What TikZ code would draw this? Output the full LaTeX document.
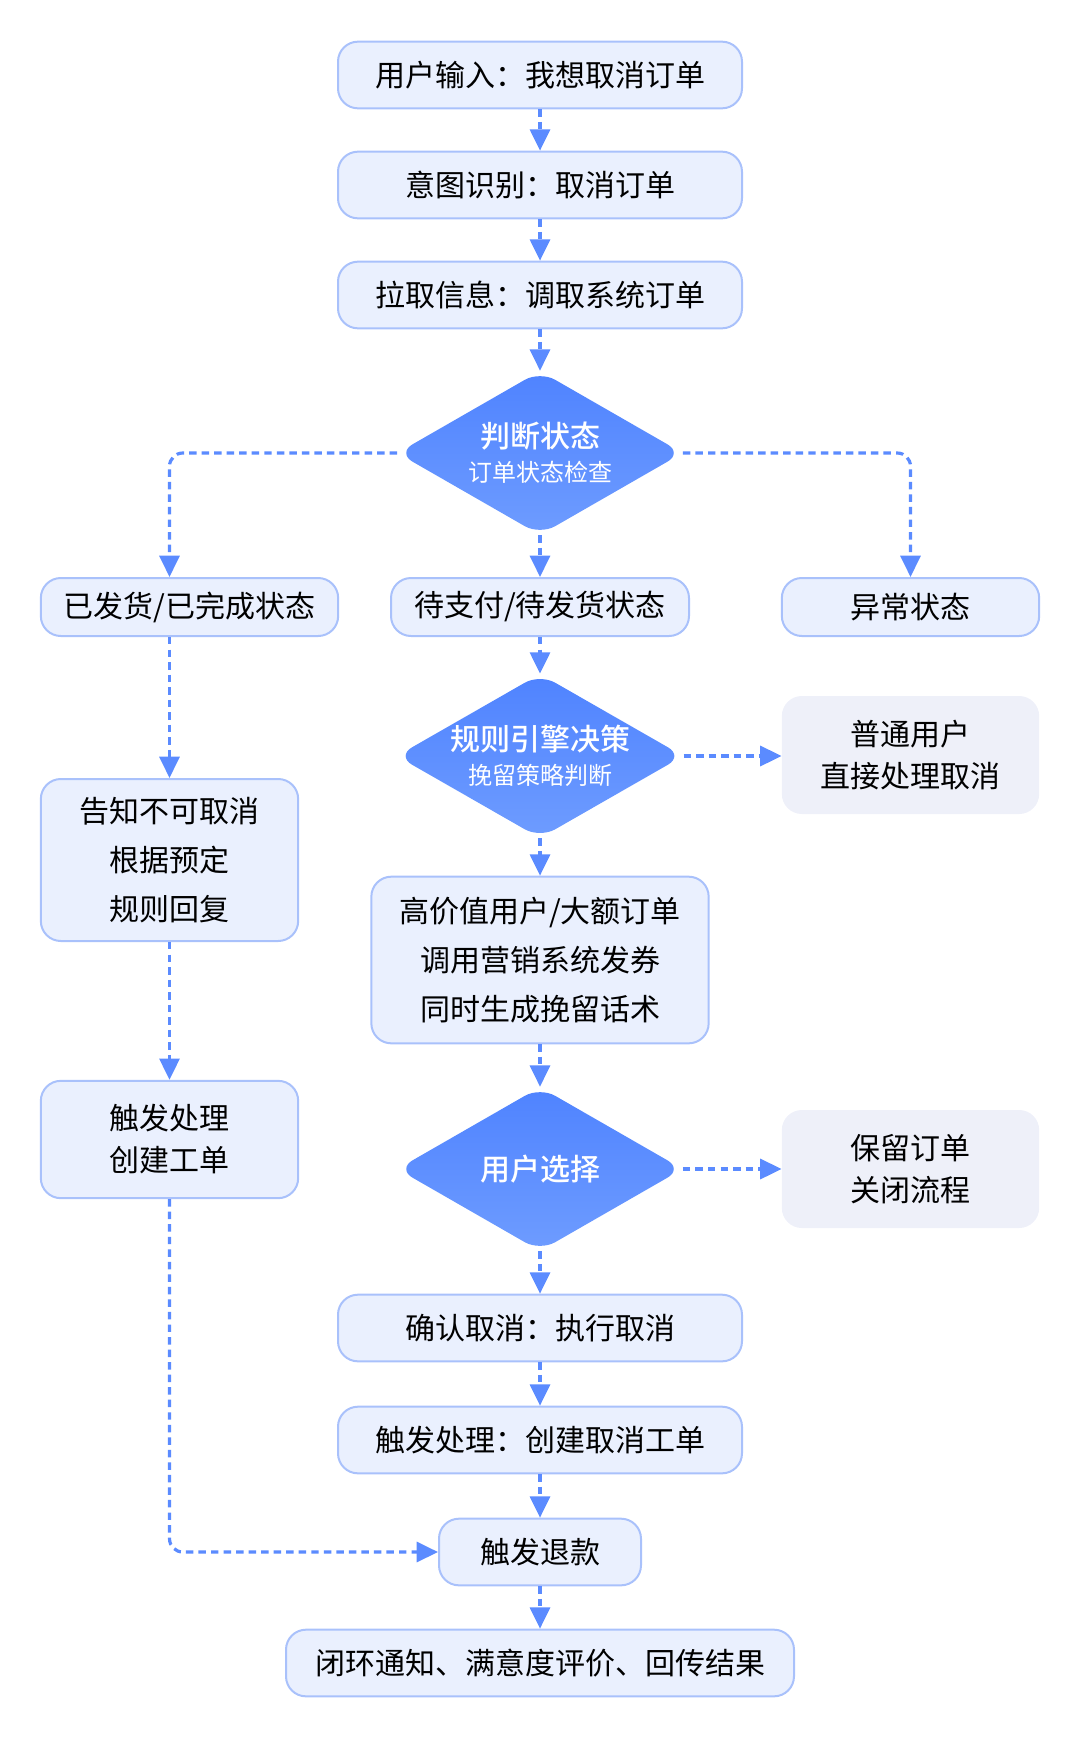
\documentclass[tikz,border=0pt]{standalone}
\usepackage{fontspec}
\setmainfont{Noto Sans CJK SC}
\newfontfamily\medfont{Noto Sans CJK SC Medium}
\usepackage{tikz}
\usetikzlibrary{shapes.geometric,arrows.meta}

\definecolor{boxfill}{HTML}{EAF0FE}
\definecolor{boxline}{HTML}{A9C1FB}
\definecolor{sidefill}{HTML}{EEF0F9}
\definecolor{flowc}{HTML}{5B8BFF}
\definecolor{dtop}{HTML}{4F83FF}
\definecolor{dbot}{HTML}{6E9CFF}

\tikzset{
  procbox/.style={draw=boxline, fill=boxfill, line width=1.5pt, rounded corners=15pt,
    minimum height=50pt, align=center, font=\fontsize{22.5}{31.5}\selectfont},
  sidebox/.style={fill=sidefill, rounded corners=15pt, minimum width=193pt,
    minimum height=88.5pt, align=center, font=\fontsize{22.5}{31.5}\selectfont},
  decide/.style={diamond, aspect=1.745, inner sep=0pt, minimum width=214pt,
    minimum height=123pt, rounded corners=13pt, top color=dtop, bottom color=dbot,
    text=white, align=center},
  flow/.style={draw=flowc, line width=2.4pt, dash pattern=on 5.6pt off 3.8pt,
    rounded corners=10pt, -{Triangle[length=16pt,width=15pt]}},
}

\newcommand{\dtitle}[1]{{\medfont\fontsize{22.5}{27.5}\selectfont #1}}
\newcommand{\dsub}[1]{{\fontsize{18}{22}\selectfont #1}}

\begin{document}
\begin{tikzpicture}[x=0.75pt,y=0.75pt,yscale=-1]
\path[use as bounding box] (0,0) rectangle (1080,1745);

% top of the main column
\node[procbox, minimum width=303pt] (inp) at (540,75) {用户输入：我想取消订单};
\node[procbox, minimum width=303pt] (intent) at (540,185) {意图识别：取消订单};
\node[procbox, minimum width=303pt] (fetch) at (540,295) {拉取信息：调取系统订单};

% state check
\node[decide] (state) at (540,453) {\dtitle{判断状态}\\[7pt]\dsub{订单状态检查}};

\node[procbox, minimum width=223pt, minimum height=43.5pt] (shipped) at (189.5,607) {已发货/已完成状态};
\node[procbox, minimum width=223.5pt, minimum height=43.5pt] (pending) at (540,607) {待支付/待发货状态};
\node[procbox, minimum width=193pt, minimum height=43.5pt] (abnormal) at (910.5,607) {异常状态};

% retention rules
\node[decide] (rules) at (540,756) {\dtitle{规则引擎决策}\\[7pt]\dsub{挽留策略判断}};
\node[sidebox] (normal) at (910.5,755) {普通用户\\直接处理取消};

\node[procbox, minimum width=193pt, minimum height=121.5pt] (refuse) at (169.5,860) {告知不可取消\\[5pt]根据预定\\[5pt]规则回复};
\node[procbox, minimum width=253pt, minimum height=125pt] (vip) at (540,960) {高价值用户/大额订单\\[5pt]调用营销系统发券\\[5pt]同时生成挽留话术};

\node[procbox, minimum width=193pt, minimum height=88pt] (ticket) at (169.5,1139.5) {触发处理\\创建工单};

% user choice
\node[decide] (choice) at (540,1169) {\dtitle{用户选择}};
\node[sidebox] (keep) at (910.5,1169) {保留订单\\关闭流程};

% bottom of the main column
\node[procbox, minimum width=303pt] (confirm) at (540,1328) {确认取消：执行取消};
\node[procbox, minimum width=303pt] (cticket) at (540,1440) {触发处理：创建取消工单};
\node[procbox, minimum width=151.5pt] (refund) at (540,1552) {触发退款};
\node[procbox, minimum width=381pt] (close) at (540,1663) {闭环通知、满意度评价、回传结果};

% connectors
\draw[flow] (inp) -- (intent);
\draw[flow] (intent) -- (fetch);
\draw[flow] (fetch) -- (state);
\draw[flow] (state.west) -| (shipped.north -| refuse.north);
\draw[flow] (state) -- (pending);
\draw[flow] (state.east) -| (abnormal.north);
\draw[flow] (pending) -- (rules);
\draw[flow] (rules.east) -- (rules.east -| normal.west);
\draw[flow] (rules) -- (vip);
\draw[flow] (shipped.south -| refuse.north) -- (refuse.north);
\draw[flow] (refuse) -- (ticket);
\draw[flow] (vip) -- (choice);
\draw[flow] (choice.east) -- (choice.east -| keep.west);
\draw[flow] (choice) -- (confirm);
\draw[flow] (confirm) -- (cticket);
\draw[flow] (cticket) -- (refund);
\draw[flow] (ticket.south) |- (refund.west);
\draw[flow] (refund) -- (close);

\end{tikzpicture}
\end{document}
